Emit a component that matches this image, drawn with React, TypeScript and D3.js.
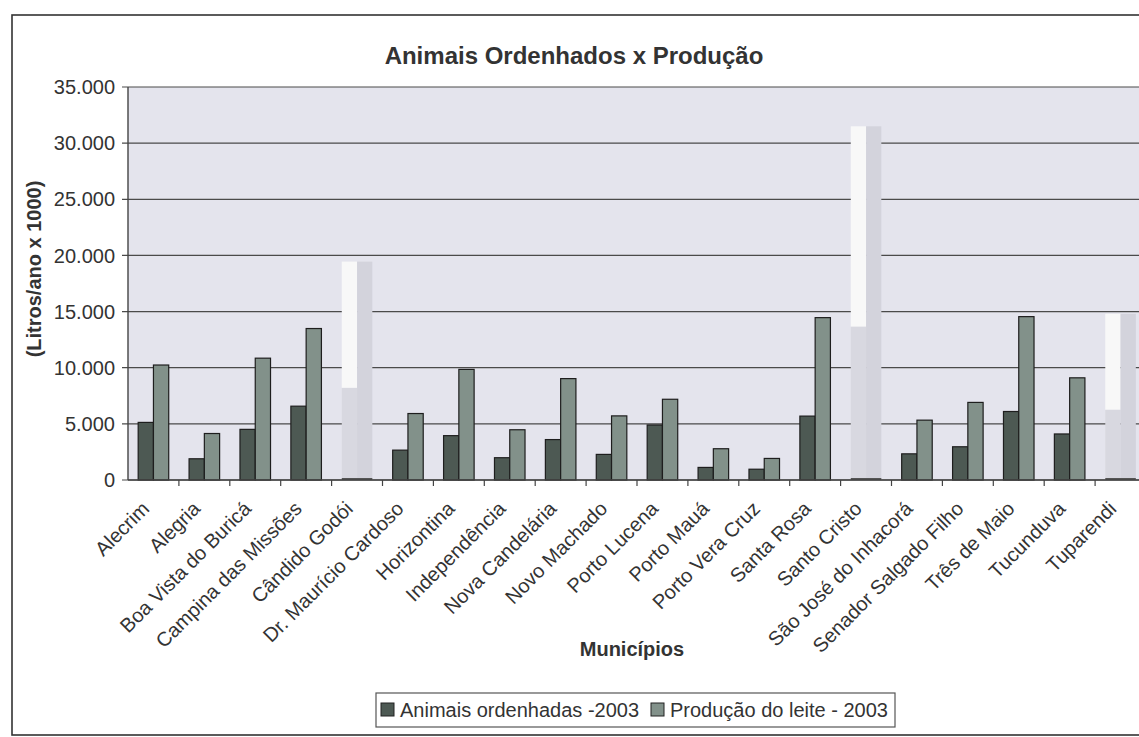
import React from "react";
import * as d3 from "d3";

const municipios = [
  "Alecrim", "Alegria", "Boa Vista do Buricá", "Campina das Missões", "Cândido Godói",
  "Dr. Maurício Cardoso", "Horizontina", "Independência", "Nova Candelária", "Novo Machado",
  "Porto Lucena", "Porto Mauá", "Porto Vera Cruz", "Santa Rosa", "Santo Cristo",
  "São José do Inhacorá", "Senador Salgado Filho", "Três de Maio", "Tucunduva", "Tuparendi",
];
const animais = [
  5130, 1890, 4510, 6575, 8200, 2660, 3950, 1985, 3600, 2280,
  4900, 1120, 960, 5690, 13650, 2330, 2960, 6100, 4100, 6250,
];
const producao = [
  10240, 4140, 10850, 13490, 19450, 5920, 9850, 4475, 9030, 5710,
  7190, 2785, 1920, 14460, 31500, 5330, 6910, 14550, 9100, 14800,
];
const seriesNames = ["Animais ordenhadas -2003", "Produção do leite - 2003"];
const yTicks = [0, 5000, 10000, 15000, 20000, 25000, 30000, 35000];
// municipalities whose bars came out washed-out in the scanned original
const washedOut = ["Cândido Godói", "Santo Cristo", "Tuparendi"];

const W = 1139;
const H = 737;
const plot = { left: 128, right: 1146, top: 87, bottom: 480 };
const colors = ["#4d5953", "#82918a"];
const FONT = "'Liberation Sans', Arial, sans-serif";

const fmt = d3.formatLocale({ decimal: ",", thousands: ".", grouping: [3], currency: ["R$", ""] }).format(",d");

export default function App() {
  const x = d3.scaleBand<string>().domain(municipios).range([plot.left, plot.right]).padding(0);
  const bw = x.bandwidth();
  const x1 = d3.scaleBand<number>().domain([0, 1]).range([bw * 0.2, bw * 0.8]).padding(0);
  const y = d3.scaleLinear().domain([0, 35000]).range([plot.bottom, plot.top]);
  const series = [animais, producao];

  return (
    <svg width={W} height={H} style={{ position: "absolute", left: 0, top: 0, background: "#fff" }} fontFamily={FONT}>
      <rect x={0} y={0} width={W} height={H} fill="#fff" />
      {/* outer chart frame */}
      <rect x={12} y={15} width={1160} height={720} fill="none" stroke="#333" strokeWidth={1.6} />
      <text x={574} y={64} textAnchor="middle" fontSize={24} fontWeight="bold" fill="#333">
        Animais Ordenhados x Produção
      </text>

      {/* plot background */}
      <rect x={plot.left} y={plot.top} width={plot.right - plot.left} height={plot.bottom - plot.top} fill="#e4e4ed" />
      {yTicks.map((t) => (
        <g key={t}>
          <line x1={plot.left - 6} x2={plot.right} y1={y(t)} y2={y(t)} stroke="#4a4a4a" strokeWidth={1.2} />
          <text x={115} y={y(t)} dy="0.36em" textAnchor="end" fontSize={20} fill="#333">
            {fmt(t)}
          </text>
        </g>
      ))}

      {/* bars */}
      {municipios.map((m, i) => {
        const gx = x(m)!;
        if (washedOut.includes(m)) {
          const x0 = gx + x1(0)!;
          const xa = gx + x1(1)!;
          const w = x1.bandwidth();
          return (
            <g key={m}>
              <rect x={x0} y={y(producao[i])} width={w} height={y(animais[i]) - y(producao[i])} fill="#f8f8f8" />
              <rect x={x0} y={y(animais[i])} width={w} height={plot.bottom - y(animais[i])} fill="#d8d8e0" />
              <rect x={xa} y={y(producao[i])} width={w} height={plot.bottom - y(producao[i])} fill="#d3d3dc" />
              <line x1={x0} x2={xa + w} y1={plot.bottom - 1} y2={plot.bottom - 1} stroke="#555" strokeWidth={2} />
            </g>
          );
        }
        return (
          <g key={m}>
            {series.map((s, k) => (
              <rect
                key={k}
                x={gx + x1(k)!}
                y={y(s[i])}
                width={x1.bandwidth()}
                height={plot.bottom - y(s[i])}
                fill={colors[k]}
                stroke="#1e1e1e"
                strokeWidth={1.2}
              />
            ))}
          </g>
        );
      })}

      {/* axes */}
      <line x1={plot.left} x2={plot.left} y1={plot.top} y2={plot.bottom} stroke="#444" strokeWidth={1.4} />
      <line x1={plot.left} x2={plot.right} y1={plot.bottom} y2={plot.bottom} stroke="#444" strokeWidth={1.4} />
      {municipios.map((m) => (
        <line key={m} x1={x(m)! + bw} x2={x(m)! + bw} y1={plot.bottom} y2={plot.bottom + 6} stroke="#444" strokeWidth={1.2} />
      ))}
      {municipios.map((m) => {
        const cx = x(m)! + bw / 2;
        return (
          <text
            key={m}
            transform={`translate(${cx - 3},${plot.bottom + 30}) rotate(-45)`}
            textAnchor="end"
            fontSize={20}
            fill="#333"
          >
            {m}
          </text>
        );
      })}

      <text x={632} y={656} textAnchor="middle" fontSize={20} fontWeight="bold" fill="#333">
        Municípios
      </text>
      <text transform="translate(41,269) rotate(-90)" textAnchor="middle" fontSize={20} fontWeight="bold" fill="#333">
        (Litros/ano x 1000)
      </text>

      {/* legend */}
      <rect x={376} y={693} width={519} height={34} fill="#fff" stroke="#555" strokeWidth={1.2} />
      {seriesNames.map((n, k) => {
        const lx = k === 0 ? 381 : 651;
        return (
          <g key={n}>
            <rect x={lx} y={703} width={13} height={13} fill={colors[k]} stroke="#222" strokeWidth={1} />
            <text x={lx + 19} y={717} fontSize={20} fill="#333">
              {n}
            </text>
          </g>
        );
      })}
    </svg>
  );
}
